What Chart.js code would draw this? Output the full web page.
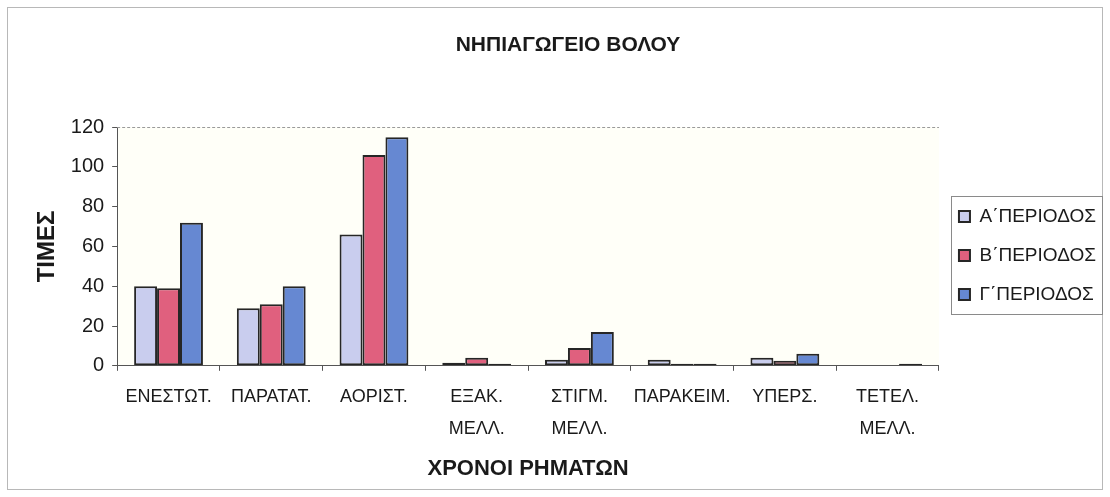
<!DOCTYPE html>
<html lang="el">
<head>
    <meta charset="UTF-8">
    <title>ΝΗΠΙΑΓΩΓΕΙΟ ΒΟΛΟΥ</title>
    <script src="https://cdn.jsdelivr.net/npm/chart.js"></script>
    <style>
        html, body {
            margin: 0;
            padding: 0;
            background: #ffffff;
        }

        .wrap {
            position: relative;
            width: 1110px;
            height: 497px;
        }
    </style>
</head>
<body>
    <div class="wrap">
        <canvas id="chart"></canvas>
    </div>

    <script>
        // data
        var categories = [
            'ΕΝΕΣΤΩΤ.', 'ΠΑΡΑΤΑΤ.', 'ΑΟΡΙΣΤ.', ['ΕΞΑΚ.', 'ΜΕΛΛ.'],
            ['ΣΤΙΓΜ.', 'ΜΕΛΛ.'], 'ΠΑΡΑΚΕΙΜ.', 'ΥΠΕΡΣ.', ['ΤΕΤΕΛ.', 'ΜΕΛΛ.']
        ];
        var seriesNames = ['Α΄ΠΕΡΙΟΔΟΣ', 'Β΄ΠΕΡΙΟΔΟΣ', 'Γ΄ΠΕΡΙΟΔΟΣ'];
        var periodA = [40, 29, 66, 1.5, 3, 3, 4, 0];
        var periodB = [39, 31, 106, 4, 9, 1, 2.5, 0];
        var periodC = [72, 40, 115, 1, 17, 1, 6, 1];
        var yTicks = [0, 20, 40, 60, 80, 100, 120];

        var fontFamily = "'Liberation Sans', Arial, sans-serif";
        var textColor = '#1a1a1a';

        // plot background, dashed top line, outer frame and legend frame
        var framePlugin = {
            id: 'frames',
            beforeDraw: function(chart) {
                var ctx = chart.ctx;
                var a = chart.chartArea;
                ctx.save();
                ctx.fillStyle = '#fffff8';
                ctx.fillRect(a.left, a.top, a.right - a.left, a.bottom - a.top);
                ctx.restore();
            },
            afterDraw: function(chart) {
                var ctx = chart.ctx;
                var a = chart.chartArea;
                var y = chart.scales.y.getPixelForValue(120);
                ctx.save();
                ctx.strokeStyle = '#9a9a9a';
                ctx.lineWidth = 1;
                ctx.setLineDash([3, 2]);
                ctx.beginPath();
                ctx.moveTo(a.left, Math.round(y) + 0.5);
                ctx.lineTo(a.right, Math.round(y) + 0.5);
                ctx.stroke();
                ctx.setLineDash([]);

                // outer frame
                ctx.strokeStyle = '#b8b8b8';
                ctx.strokeRect(7.5, 7.5, chart.width - 15, chart.height - 15);

                // legend frame, fitted round the legend items
                var boxes = chart.legend.legendHitBoxes;
                if (boxes && boxes.length) {
                    var x0 = Infinity, y0 = Infinity, x1 = -Infinity, y1 = -Infinity;
                    boxes.forEach(function(b) {
                        x0 = Math.min(x0, b.left);
                        y0 = Math.min(y0, b.top);
                        x1 = Math.max(x1, b.left + b.width);
                        y1 = Math.max(y1, b.top + b.height);
                    });
                    ctx.strokeStyle = '#8a8a8a';
                    ctx.strokeRect(Math.round(x0 - 8) + 0.5, Math.round(y0 - 11) + 0.5,
                        Math.round(x1 - x0 + 14), Math.round(y1 - y0 + 21));
                }
                ctx.restore();
            }
        };

        function makeSet(label, values, color) {
            return {
                label: label,
                data: values,
                backgroundColor: color,
                borderColor: '#262626',
                borderWidth: 2,
                borderSkipped: false,
                barPercentage: 1.0,
                categoryPercentage: 0.67
            };
        }

        var ctx = document.getElementById('chart').getContext('2d');
        var chart = new Chart(ctx, {
            type: 'bar',
            data: {
                labels: categories,
                datasets: [
                    makeSet(seriesNames[0], periodA, '#c9cdee'),
                    makeSet(seriesNames[1], periodB, '#e0607e'),
                    makeSet(seriesNames[2], periodC, '#6688d2')
                ]
            },
            plugins: [framePlugin],
            options: {
                responsive: true,
                maintainAspectRatio: false,
                animation: false,
                layout: {
                    padding: { left: 30, right: 4, top: 29, bottom: 15 }
                },
                plugins: {
                    title: {
                        display: true,
                        text: 'ΝΗΠΙΑΓΩΓΕΙΟ ΒΟΛΟΥ',
                        color: textColor,
                        font: { family: fontFamily, size: 21, weight: 'bold' },
                        padding: { top: 4, bottom: 69 }
                    },
                    legend: {
                        position: 'right',
                        labels: {
                            color: textColor,
                            font: { family: fontFamily, size: 19 },
                            boxWidth: 11,
                            boxHeight: 11,
                            padding: 20
                        }
                    },
                    tooltip: { enabled: false }
                },
                scales: {
                    x: {
                        grid: {
                            display: true,
                            drawOnChartArea: false,
                            offset: true,
                            tickLength: 5,
                            color: '#555'
                        },
                        border: { color: '#555', width: 1 },
                        ticks: {
                            color: textColor,
                            font: { family: fontFamily, size: 18, lineHeight: 1.8 },
                            maxRotation: 0,
                            autoSkip: false,
                            padding: 10
                        },
                        title: {
                            display: true,
                            text: 'ΧΡΟΝΟΙ ΡΗΜΑΤΩΝ',
                            color: textColor,
                            font: { family: fontFamily, size: 22, weight: 'bold' },
                            padding: { top: 0, bottom: 0 }
                        }
                    },
                    y: {
                        min: 0,
                        max: 120,
                        afterBuildTicks: function(scale) {
                            scale.ticks = yTicks.map(function(v) { return { value: v }; });
                        },
                        grid: {
                            display: true,
                            drawOnChartArea: false,
                            tickLength: 5,
                            color: '#555'
                        },
                        border: { color: '#555', width: 1 },
                        ticks: {
                            color: textColor,
                            font: { family: fontFamily, size: 20 },
                            padding: 8
                        },
                        title: {
                            display: true,
                            text: 'ΤΙΜΕΣ',
                            color: textColor,
                            font: { family: fontFamily, size: 24, weight: 'bold' },
                            padding: { top: 3, bottom: 1 }
                        }
                    }
                }
            }
        });
    </script>
</body>
</html>
